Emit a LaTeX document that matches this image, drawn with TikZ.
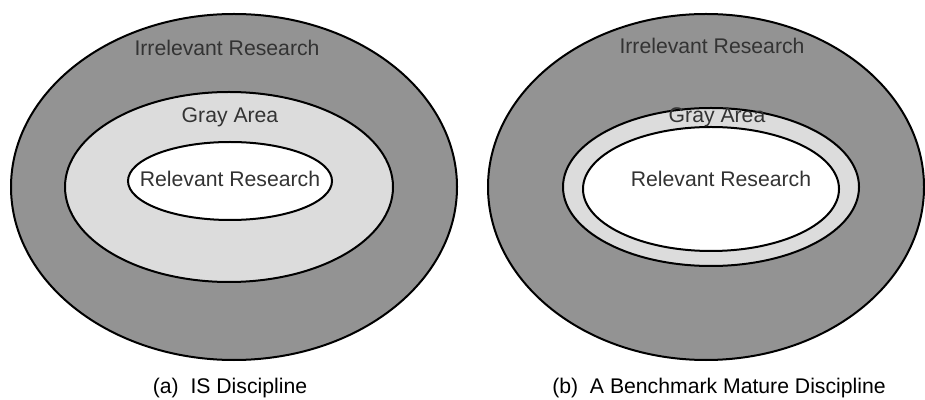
\documentclass[tikz,border=0pt]{standalone}
\usepackage{fontspec}
\setmainfont{Liberation Sans}
\definecolor{darkring}{HTML}{939393}
\definecolor{lightring}{HTML}{DCDCDC}
\definecolor{labelgray}{HTML}{333333}
\tikzstyle{every node}=[font=\fontsize{10.6}{12.7}\selectfont, inner sep=0pt]
\tikzstyle{ring}=[draw=black, line width=1pt]
\tikzstyle{label}=[text=labelgray]

\begin{document}
\begin{tikzpicture}[x=0.5pt, y=-0.5pt]
\useasboundingbox (0,0) rectangle (925,400);
% Left: IS discipline
    \filldraw[ring, fill=darkring] (234,187) ellipse [x radius=223, y radius=173];
    \filldraw[ring, fill=lightring] (229,187) ellipse [x radius=164, y radius=95];
    \filldraw[ring, fill=white] (230,181) ellipse [x radius=102, y radius=39];
% Right: benchmark discipline
    \filldraw[ring, fill=darkring] (706,187) ellipse [x radius=218, y radius=173];
    \filldraw[ring, fill=lightring] (711,187) ellipse [x radius=148, y radius=79];
    \filldraw[ring, fill=white] (711,189) ellipse [x radius=128, y radius=62];
%Labels
    \node[label] (irrelA) at (227,48) {Irrelevant Research};
    \node[label] (grayA) at (230,117) {Gray Area};
    \node[label] (relA) at (230,179) {Relevant Research};
    \node[label] (irrelB) at (712,46) {Irrelevant Research};
    \node[label] (grayB) at (717,117) {Gray Area};
    \node[label] (relB) at (721,179) {Relevant Research};
%Captions
    \node (capA) at (230,388) {(a)\ \ IS Discipline};
    \node (capB) at (719,388) {(b)\ \ A Benchmark Mature Discipline};
\end{tikzpicture}
\end{document}
